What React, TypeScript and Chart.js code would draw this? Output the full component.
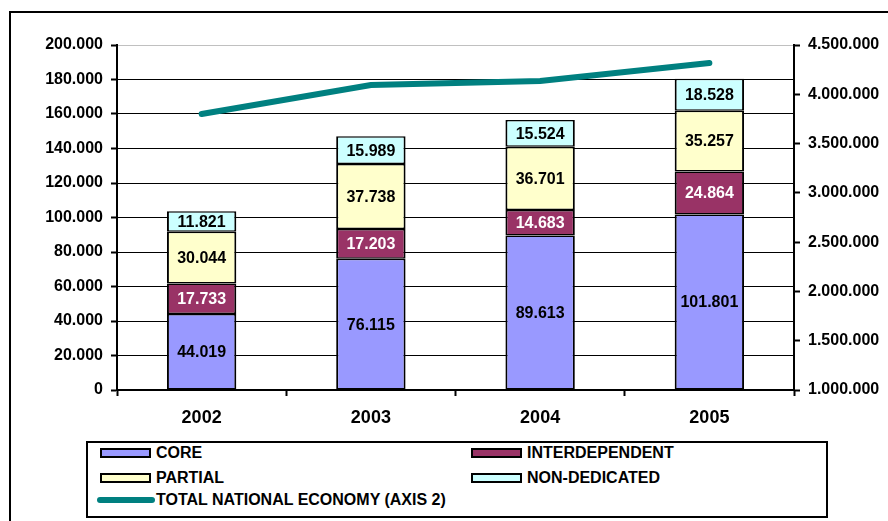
import React, { useEffect, useRef } from "react";
import { Chart, registerables } from "chart.js";

Chart.register(...registerables);

const categories = ["2002", "2003", "2004", "2005"];
const coreValues = [44019, 76115, 89613, 101801];
const interdependentValues = [17733, 17203, 14683, 24864];
const partialValues = [30044, 37738, 36701, 35257];
const nonDedicatedValues = [11821, 15989, 15524, 18528];
const totalEconomyValues = [3800000, 4094000, 4135000, 4317000];

const leftTicks = [0, 20000, 40000, 60000, 80000, 100000, 120000, 140000, 160000, 180000, 200000];
const rightTicks = [1000000, 1500000, 2000000, 2500000, 3000000, 3500000, 4000000, 4500000];

const FONT = "'Liberation Sans', Arial, Helvetica, sans-serif";

const fmt = (v: number) => {
  const s = Math.round(v).toString();
  return s.replace(/\B(?=(\d{3})+(?!\d))/g, ".");
};

const labelPlugin = {
  id: "segLabels",
  afterDatasetsDraw(chart: any) {
    const ctx = chart.ctx;
    ctx.save();
    ctx.font = `bold 16px ${FONT}`;
    ctx.textAlign = "center";
    ctx.textBaseline = "middle";
    chart.data.datasets.forEach((ds: any, di: number) => {
      if (ds.type === "line") return;
      const meta = chart.getDatasetMeta(di);
      meta.data.forEach((el: any, i: number) => {
        const y = (el.y + el.base) / 2;
        ctx.fillStyle = ds.labelColor || "#000";
        ctx.fillText(fmt(ds.data[i]), el.x, y + 1);
      });
    });
    ctx.restore();
  },
};

const legendItems = [
  { label: "CORE", color: "#9999FF", x: 100, y: 453 },
  { label: "INTERDEPENDENT", color: "#993366", x: 471, y: 453 },
  { label: "PARTIAL", color: "#FFFFCC", x: 100, y: 478 },
  { label: "NON-DEDICATED", color: "#CCFFFF", x: 471, y: 478 },
];

export default function App() {
  const canvasRef = useRef<HTMLCanvasElement | null>(null);

  useEffect(() => {
    if (!canvasRef.current) return;
    const barBorder = { top: 1.5, bottom: 1.5, left: 2, right: 2 };
    const chart = new Chart(canvasRef.current, {
      type: "bar",
      data: {
        labels: categories,
        datasets: [
          {
            type: "line",
            label: "TOTAL NATIONAL ECONOMY (AXIS 2)",
            data: totalEconomyValues,
            yAxisID: "y2",
            borderColor: "#008080",
            backgroundColor: "#008080",
            borderWidth: 6,
            borderCapStyle: "round",
            pointRadius: 0,
            tension: 0,
            order: 0,
          } as any,
          {
            label: "CORE",
            data: coreValues,
            backgroundColor: "#9999FF",
            borderColor: "#000",
            borderWidth: barBorder,
            borderSkipped: false,
            labelColor: "#000",
            order: 1,
          } as any,
          {
            label: "INTERDEPENDENT",
            data: interdependentValues,
            backgroundColor: "#993366",
            borderColor: "#000",
            borderWidth: barBorder,
            borderSkipped: false,
            labelColor: "#fff",
            order: 1,
          } as any,
          {
            label: "PARTIAL",
            data: partialValues,
            backgroundColor: "#FFFFCC",
            borderColor: "#000",
            borderWidth: barBorder,
            borderSkipped: false,
            labelColor: "#000",
            order: 1,
          } as any,
          {
            label: "NON-DEDICATED",
            data: nonDedicatedValues,
            backgroundColor: "#CCFFFF",
            borderColor: "#000",
            borderWidth: barBorder,
            borderSkipped: false,
            labelColor: "#000",
            order: 1,
          } as any,
        ],
      },
      options: {
        animation: false,
        responsive: false,
        devicePixelRatioOverride: 1,
        layout: { padding: { top: 45, left: 0, right: 0, bottom: 0 } },
        datasets: { bar: { barPercentage: 0.41, categoryPercentage: 1 } },
        plugins: { legend: { display: false }, tooltip: { enabled: false } },
        scales: {
          x: {
            stacked: true,
            offset: true,
            afterFit: (s: any) => { s.height = 131; },
            grid: {
              offset: true,
              drawOnChartArea: false,
              tickLength: 6,
              tickColor: "#000",
              tickWidth: 2,
            },
            border: { color: "#000", width: 2 },
            ticks: {
              color: "#000",
              padding: 11,
              font: { family: FONT, size: 18, weight: "bold" },
            },
          },
          y: {
            stacked: true,
            min: 0,
            max: 200000,
            afterFit: (s: any) => { s.width = 117; },
            afterBuildTicks: (s: any) => { s.ticks = leftTicks.map((v) => ({ value: v })); },
            grid: {
              color: (c: any) => (c.tick && c.tick.value === 200000 ? "#c0c0c0" : "#000"),
              lineWidth: 1,
              tickLength: 6,
              tickColor: "#000",
              tickWidth: 2,
            },
            border: { color: "#000", width: 2 },
            ticks: {
              color: "#000",
              padding: 8,
              font: { family: FONT, size: 16, weight: "bold" },
              callback: (v: any) => fmt(Number(v)),
            },
          },
          y2: {
            position: "right",
            min: 1000000,
            max: 4500000,
            afterFit: (s: any) => { s.width = 94; },
            afterBuildTicks: (s: any) => { s.ticks = rightTicks.map((v) => ({ value: v })); },
            grid: {
              drawOnChartArea: false,
              tickLength: 6,
              tickColor: "#000",
              tickWidth: 2,
            },
            border: { color: "#000", width: 2 },
            ticks: {
              color: "#000",
              padding: 8,
              font: { family: FONT, size: 16, weight: "bold" },
              callback: (v: any) => fmt(Number(v)),
            },
          },
        },
      } as any,
      plugins: [labelPlugin],
    });
    return () => chart.destroy();
  }, []);

  const textStyle: React.CSSProperties = {
    position: "absolute",
    fontFamily: FONT,
    fontWeight: "bold",
    fontSize: 16,
    color: "#000",
    lineHeight: "18px",
    whiteSpace: "nowrap",
  };

  return (
    <div style={{ position: "fixed", left: 0, top: 0, width: 888, height: 521, overflow: "hidden", background: "#fff" }}>
      <div style={{ position: "absolute", left: 9, top: 11, width: 900, height: 600, border: "2px solid #000", boxSizing: "border-box" }} />
      <canvas ref={canvasRef} width={888} height={521} style={{ position: "absolute", left: 0, top: 0, width: 888, height: 521 }} />
      <div style={{ position: "absolute", left: 86, top: 441, width: 742, height: 77, border: "2px solid #000", boxSizing: "border-box", background: "#fff" }} />
      {legendItems.map((it) => (
        <React.Fragment key={it.label}>
          <div style={{ position: "absolute", left: it.x, top: it.y - 5, width: 51, height: 10, background: it.color, border: "2px solid #000", boxSizing: "border-box" }} />
          <div style={{ ...textStyle, left: it.x + 56, top: it.y - 9 }}>{it.label}</div>
        </React.Fragment>
      ))}
      <div style={{ position: "absolute", left: 97, top: 497, width: 58, height: 6, background: "#008080", borderRadius: 3 }} />
      <div style={{ ...textStyle, left: 156, top: 491 }}>TOTAL NATIONAL ECONOMY (AXIS 2)</div>
    </div>
  );
}
